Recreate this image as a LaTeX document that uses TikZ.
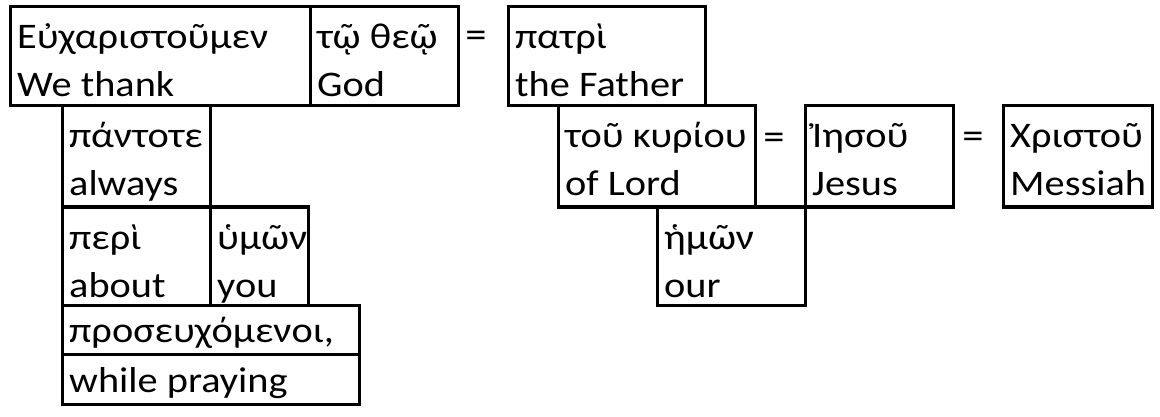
\documentclass[tikz,border=0pt]{standalone}
\usepackage{fontspec}
\setmainfont{Carlito}[FakeStretch=1.12]
\newcommand\wbox[7]{%
  \node[box, minimum width={(#4-#2)*1pt}, minimum height={(#5-#3)*1pt}] (#1) at (#2,#3) {};
  \node[word] (#1g) at (#2+7,#3+42) {#6};
  \node[word] (#1e) at (#2+7,#3+90) {#7};
}
\newcommand\lbox[5]{%
  \node[box, minimum width={(#4-#2)*1pt}, minimum height={(#5-#3)*1pt}] (#1) at (#2,#3) {};
}
\begin{document}
\begin{tikzpicture}[x=1pt,y=-1pt,
  box/.style={draw, line width=3pt, inner sep=0pt, outer sep=0pt, anchor=north west},
  word/.style={anchor=base west, inner sep=0pt, font=\fontsize{36}{40}\selectfont},
  eq/.style={inner sep=0pt, font=\fontsize{38}{40}\selectfont}]
\useasboundingbox[fill=white] (0,0) rectangle (1160,417);
\wbox{A}{10}{7}{310}{106}{Εὐχαριστοῦμεν}{We thank}
\wbox{B}{310}{7}{458}{106}{τῷ θεῷ}{God}
\wbox{C}{508}{7}{705}{106}{πατρὶ}{the Father}
\wbox{D}{62}{106}{210}{207}{πάντοτε}{always}
\wbox{E}{62}{207}{210}{305}{περὶ}{about}
\wbox{F}{210}{207}{308}{305}{ὑμῶν}{you}
\lbox{G}{62}{305}{359}{354}
\node[word] (Gg) at (69,342) {προσευχόμενοι,};
\lbox{Ge}{62}{354}{359}{404}
\node[word] (Gee) at (69,392) {while praying};
\wbox{H}{558}{106}{755}{207}{τοῦ κυρίου}{of Lord}
\wbox{I}{805}{106}{953}{207}{Ἰησοῦ}{Jesus}
\wbox{J}{1003}{106}{1152}{207}{Χριστοῦ}{Messiah}
\wbox{K}{657}{207}{805}{305}{ἡμῶν}{our}
\node[eq] (eq1) at (476,39) {=};
\node[eq] (eq2) at (774,141) {=};
\node[eq] (eq3) at (973,140) {=};
\end{tikzpicture}
\end{document}
